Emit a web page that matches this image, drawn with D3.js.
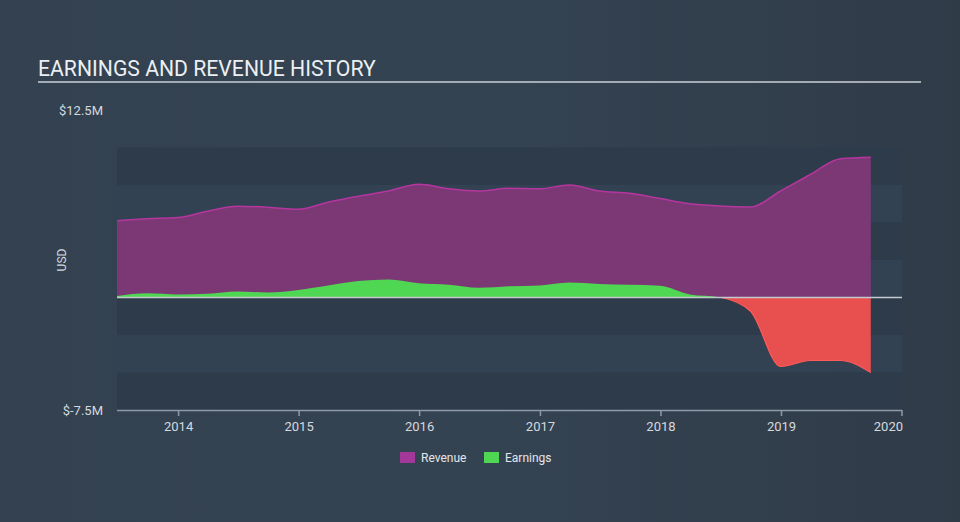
<!DOCTYPE html>
<html><head><meta charset="utf-8">
<script src="https://cdn.jsdelivr.net/npm/d3@7"></script>
<style>
html,body{margin:0;padding:0;}
body{width:960px;height:522px;overflow:hidden;font-family:Roboto,"Open Sans",sans-serif;}
</style></head>
<body><svg id="chart" width="960" height="522"></svg>
<script>
const dates = ["2013-06-30","2013-09-30","2013-12-31","2014-03-31","2014-06-30","2014-09-30","2014-12-31",
"2015-03-31","2015-06-30","2015-09-30","2015-12-31","2016-03-31","2016-06-30","2016-09-30","2016-12-31",
"2017-03-31","2017-06-30","2017-09-30","2017-12-31","2018-03-31","2018-06-30","2018-09-30","2018-12-31",
"2019-03-31","2019-06-30","2019-09-30"];
const revenue = [5.12,5.25,5.33,5.75,6.08,6.02,5.88,6.35,6.75,7.1,7.55,7.25,7.1,7.28,7.25,7.5,7.1,6.95,6.6,6.25,6.1,6.03,7.1,8.2,9.25,9.35];
const earnings = [0.1,0.28,0.2,0.25,0.4,0.33,0.5,0.8,1.1,1.2,0.95,0.85,0.65,0.75,0.8,1.0,0.9,0.85,0.78,0.2,0.02,-0.9,-4.6,-4.2,-4.2,-5.0];
const yTicks = [12.5, -7.5];
const yTickLabels = ["$12.5M", "$-7.5M"];
const xTickYears = [2014,2015,2016,2017,2018,2019,2020];
const seriesNames = ["Revenue","Earnings"];

const parse = d3.timeParse("%Y-%m-%d");
const rows = dates.map((d,i)=>({date:parse(d), rev:revenue[i], earn:earnings[i]}));

const svg = d3.select("#chart");
const defs = svg.append("defs");
const bg = defs.append("linearGradient").attr("id","bg").attr("x1","0").attr("y1","0").attr("x2","1").attr("y2","0");
bg.append("stop").attr("offset","0").attr("stop-color","#334150");
bg.append("stop").attr("offset","0.5").attr("stop-color","#344352");
bg.append("stop").attr("offset","1").attr("stop-color","#303b48");
svg.append("rect").attr("width",960).attr("height",522).attr("fill","url(#bg)");

const x = d3.scaleTime().domain([new Date(2013,5,30), new Date(2020,0,1)]).range([117, 901.5]);
const y = d3.scaleLinear().domain([-7.5, 12.5]).range([410, 110]);

// bands
const bandEdges = d3.range(10, -7.5, -2.5);
svg.append("g").selectAll("rect").data(bandEdges).join("rect")
  .attr("x", 117).attr("width", 902-117)
  .attr("y", d=>y(d)).attr("height", d=>y(d-2.5)-y(d))
  .attr("fill", (d,i)=> i%2===0 ? "#2e3b4a" : "#334252");

// title
svg.append("text").attr("x",38).attr("y",76).attr("fill","#eceff1")
  .attr("font-size","21.2px").text("EARNINGS AND REVENUE HISTORY");
svg.append("rect").attr("x",38).attr("y",81).attr("width",883).attr("height",2).attr("fill","#a3abb4");

// clip paths
defs.append("clipPath").attr("id","above").append("rect").attr("x",0).attr("y",0).attr("width",960).attr("height",y(0));
defs.append("clipPath").attr("id","below").append("rect").attr("x",0).attr("y",y(0)).attr("width",960).attr("height",522-y(0));

const curve = d3.curveMonotoneX;
const revArea = d3.area().x(d=>x(d.date)).y0(y(0)).y1(d=>y(d.rev)).curve(curve);
const revLine = d3.line().x(d=>x(d.date)).y(d=>y(d.rev)).curve(curve);
const earnArea = d3.area().x(d=>x(d.date)).y0(y(0)).y1(d=>y(d.earn)).curve(curve);
const earnLine = d3.line().x(d=>x(d.date)).y(d=>y(d.earn)).curve(curve);

svg.append("path").datum(rows).attr("d",revArea).attr("fill","#7b3875");
svg.append("path").datum(rows).attr("d",revLine).attr("fill","none").attr("stroke","#b5369f").attr("stroke-width",1.5);

svg.append("path").datum(rows).attr("d",earnArea).attr("fill","#4fd653").attr("clip-path","url(#above)");
svg.append("path").datum(rows).attr("d",earnArea).attr("fill","#e84f4f").attr("clip-path","url(#below)");
svg.append("path").datum(rows).attr("d",earnLine).attr("fill","none").attr("stroke","#ff5a5a").attr("stroke-width",1.2).attr("clip-path","url(#below)");

// zero line
svg.append("line").attr("x1",117).attr("x2",902).attr("y1",y(0)).attr("y2",y(0))
  .attr("stroke","#c4c9cf").attr("stroke-width",1.5);

// x axis
const xAxis = d3.axisBottom(x).tickValues(xTickYears.map(yr=>new Date(yr,0,1)))
  .tickFormat(d3.timeFormat("%Y")).tickSize(6).tickSizeOuter(0);
const gx = svg.append("g").attr("transform","translate(0,410)").call(xAxis);
gx.select(".domain").attr("stroke","#8e9aa7").attr("stroke-width",1.5).attr("d","M117,0.5H902");
gx.selectAll(".tick line").attr("stroke","#8e9aa7").attr("stroke-width",1.5);
gx.selectAll(".tick text").attr("fill","#d5d9de").attr("font-size","13px").attr("font-family","Roboto").attr("dy","0.9em");
gx.selectAll(".tick").filter((d,i)=>i===xTickYears.length-1).select("text").attr("text-anchor","end").attr("dx","1");

// y axis labels
const yAxis = d3.axisLeft(y).tickValues(yTicks).tickFormat((d,i)=>yTickLabels[i]).tickSize(0);
const gy = svg.append("g").attr("transform","translate(103,0)").call(yAxis);
gy.select(".domain").remove();
gy.selectAll(".tick text").attr("fill","#d5d9de").attr("font-size","13px").attr("font-family","Roboto").attr("x",0);

svg.append("text").attr("transform","translate(66,260) rotate(-90)").attr("text-anchor","middle")
  .attr("fill","#d5d9de").attr("font-size","12px").text("USD");

// legend
const colors = ["#a2399a","#4fd653"];
const lg = svg.append("g");
const lx = [400, 484];
seriesNames.forEach((n,i)=>{
  lg.append("rect").attr("x",lx[i]).attr("y",452).attr("width",15).attr("height",11).attr("fill",colors[i]);
  lg.append("text").attr("x",lx[i]+21).attr("y",462).attr("fill","#e3e6ea").attr("font-size","12px").text(n);
});
</script>
</body></html>
